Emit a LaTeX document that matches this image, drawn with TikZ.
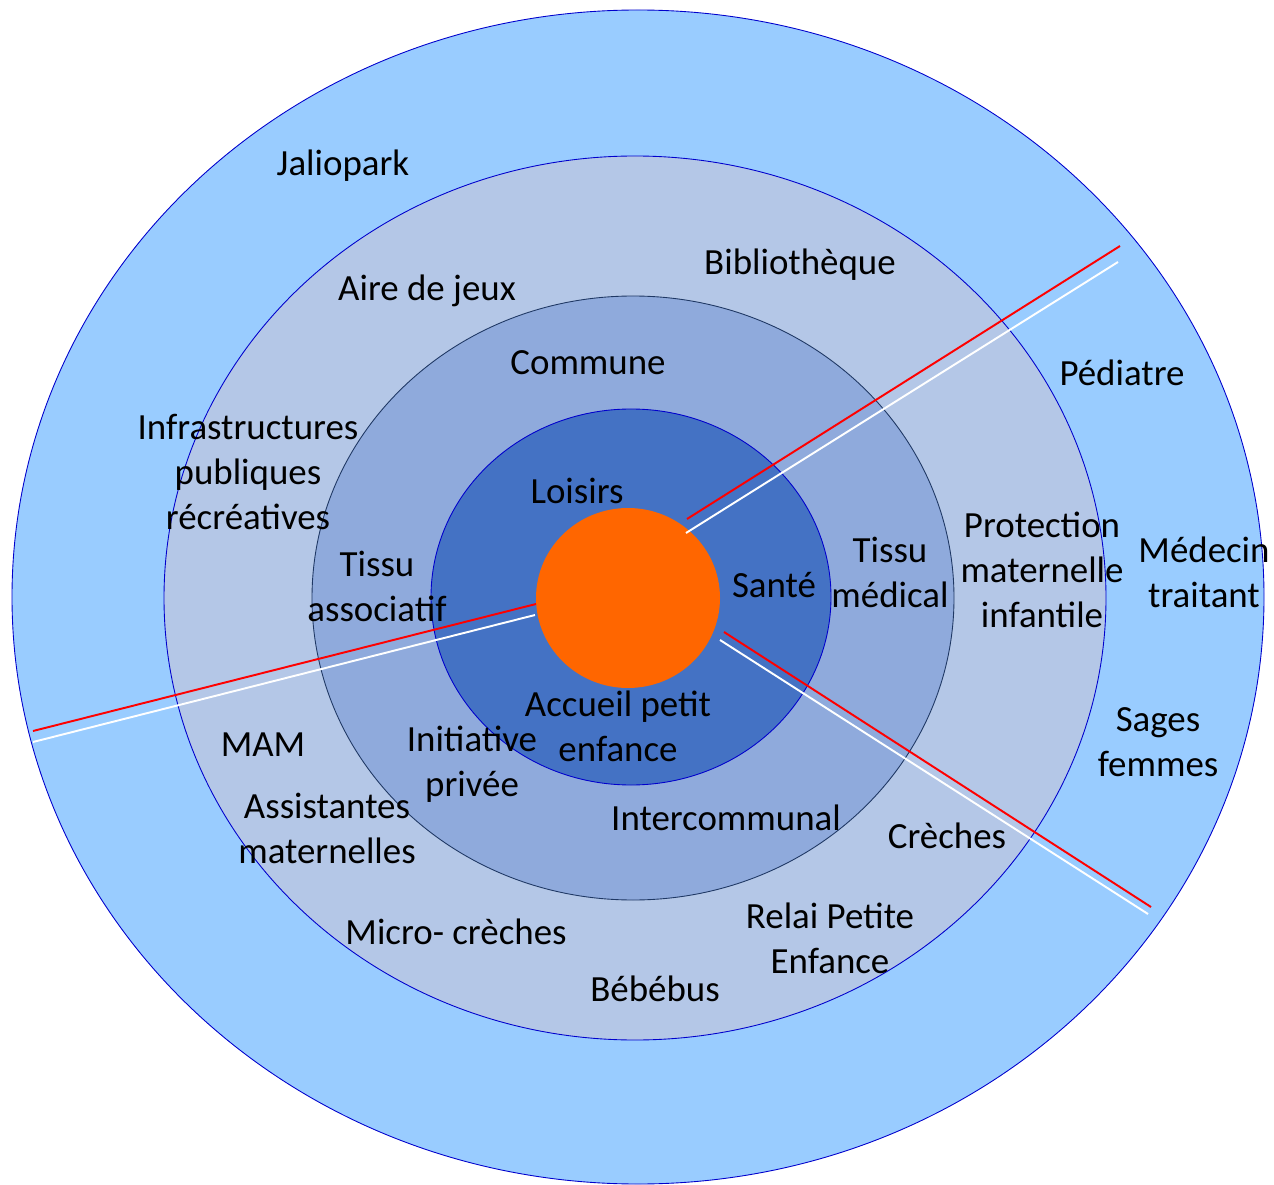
\documentclass[tikz,border=0pt]{standalone}
\usepackage{fontspec}
\setmainfont{Carlito}
\usepackage{tikz}
\usetikzlibrary{calc, positioning}
\definecolor{ringA}{HTML}{99CCFF}
\definecolor{ringB}{HTML}{B4C7E7}
\definecolor{ringC}{HTML}{8FAADC}
\definecolor{ringD}{HTML}{4472C4}
\definecolor{core}{HTML}{FF6600}
\definecolor{edgeblue}{HTML}{0000CC}
\definecolor{edgenavy}{HTML}{1F3864}
\tikzstyle{lbl}=[align=center, inner sep=0pt, yshift=-1.7pt, font=\fontsize{21}{25.6}\selectfont]
\tikzstyle{ring}=[draw=edgeblue, line width=0.5pt]
\tikzstyle{sepred}=[draw=red, line width=1.1pt]
\tikzstyle{sepwhite}=[draw=white, line width=1.1pt]
\tikzset{>=stealth}

\begin{document}
\begin{tikzpicture}[x=0.02cm, y=-0.02cm]
\useasboundingbox (0,0) rectangle (1274,1185);
% rings, outside in
\draw[ring, fill=ringA] (638,597) ellipse (626 and 587);
\draw[ring, fill=ringB] (635,598) ellipse (471 and 442);
\draw[ring, draw=edgenavy, fill=ringC] (633,598) ellipse (321 and 302);
\draw[ring, fill=ringD] (631,597) ellipse (200 and 188);
\fill[core] (628,598) ellipse (92 and 90);
% separators
\coordinate (NEr0) at (687,519);
\coordinate (NEr1) at (1120,246);
\coordinate (NEw0) at (686,533);
\coordinate (NEw1) at (1118,262);
\coordinate (Wr0) at (536,604);
\coordinate (Wr1) at (33,731);
\coordinate (Ww0) at (535,615);
\coordinate (Ww1) at (33,742);
\coordinate (SEr0) at (724,632);
\coordinate (SEr1) at (1151,907);
\coordinate (SEw0) at (720,640);
\coordinate (SEw1) at (1148,914);
\draw[sepred] (NEr0) -- (NEr1);
\draw[sepwhite] (NEw0) -- (NEw1);
\draw[sepred] (Wr0) -- (Wr1);
\draw[sepwhite] (Ww0) -- (Ww1);
\draw[sepred] (SEr0) -- (SEr1);
\draw[sepwhite] (SEw0) -- (SEw1);
% labels
\node[lbl] (jal) at (343,163) {Jaliopark};
\node[lbl] (aire) at (427,288) {Aire de jeux};
\node[lbl] (bib) at (800,262) {Bibliothèque};
\node[lbl] (com) at (588,360) {Commune};
\node[lbl] (ped) at (1122,370) {Pédiatre};
\node[lbl] (infra) at (248,469) {Infrastructures\\publiques\\récréatives};
\node[lbl] (lois) at (577,488) {Loisirs};
\node[lbl] (asso) at (377,583) {Tissu\\associatif};
\node[lbl] (sante) at (774,582) {Santé};
\node[lbl] (med) at (890,569) {Tissu\\médical};
\node[lbl] (pmi) at (1042,567) {Protection\\maternelle\\infantile};
\node[lbl] (medt) at (1204,569) {Médecin\\traitant};
\node[lbl] (acc) at (618,723) {Accueil petit\\enfance};
\node[lbl] (mam) at (263,742) {MAM};
\node[lbl] (priv) at (472,761) {Initiative\\privée};
\node[lbl] (sage) at (1158,739) {Sages\\femmes};
\node[lbl] (asmat) at (327,825) {Assistantes\\maternelles};
\node[lbl] (inter) at (726,815) {Intercommunal};
\node[lbl] (cre) at (947,833) {Crèches};
\node[lbl] (micro) at (456,929) {Micro- crèches};
\node[lbl] (rpe) at (830,935) {Relai Petite\\Enfance};
\node[lbl] (bebe) at (655,986) {Bébébus};
\end{tikzpicture}
\end{document}
